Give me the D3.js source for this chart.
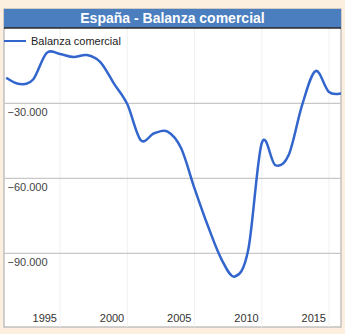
<!DOCTYPE html>
<html>
<head>
<meta charset="utf-8">
<script src="https://cdn.jsdelivr.net/npm/d3@7/dist/d3.min.js"></script>
<style>
  html, body { margin: 0; padding: 0; background: #fcefdf; }
  svg { display: block; font-family: "Liberation Sans", Arial, sans-serif; }
</style>
</head>
<body>
<svg id="chart" width="345" height="334"></svg>
<script>
// Trade balance of Spain, yearly
const years = [1991, 1992, 1993, 1994, 1995, 1996, 1997, 1998, 1999, 2000,
               2001, 2002, 2003, 2004, 2005, 2006, 2007, 2008, 2009, 2010,
               2011, 2012, 2013, 2014, 2015, 2016];
const balance = [-19800, -22300, -20500, -9900, -10300, -11500, -10700, -13500, -22000, -30300,
                 -44700, -42000, -41300, -47900, -64000, -79100, -92300, -99300, -88500, -45900,
                 -54700, -50700, -30700, -17100, -25500, -25900];
const yTicks = [-30000, -60000, -90000];
const xTicks = [1995, 2000, 2005, 2010, 2015];
const title = "España - Balanza comercial";
const seriesName = "Balanza comercial";

const svg = d3.select("#chart");
const panel = { left: 4, right: 341, top: 9, header: 28, bottom: 327 };

const x = d3.scaleLinear().domain([1995, 2015]).range([60, 329]);
const y = d3.scaleLinear().domain([-120000, 0]).range([328.3, 28.3]);

// white panel with grey frame
svg.append("rect")
  .attr("x", panel.left).attr("y", panel.top)
  .attr("width", panel.right - panel.left).attr("height", panel.bottom - panel.top)
  .attr("fill", "#fff").attr("stroke", "#b3b3b3").attr("stroke-width", 1.2);

// faint vertical grid
svg.append("g").selectAll("line").data(xTicks).join("line")
  .attr("x1", d => x(d)).attr("x2", d => x(d))
  .attr("y1", panel.header).attr("y2", panel.bottom)
  .attr("stroke", "#f0f0f0").attr("stroke-width", 1);

// horizontal grid
svg.append("g").selectAll("line").data(yTicks).join("line")
  .attr("x1", panel.left).attr("x2", panel.right)
  .attr("y1", d => y(d)).attr("y2", d => y(d))
  .attr("stroke", "#c8c8c8").attr("stroke-width", 1.2);

// y labels, inside the plot below each grid line
const fmt = d => d3.format(",")(d).replace(/,/g, ".");
svg.append("g").selectAll("text").data(yTicks).join("text")
  .attr("x", panel.left + 3.5).attr("y", d => y(d) + 13)
  .attr("font-size", 11).attr("fill", "#444")
  .text(fmt);

// x labels, to the left of each grid line
svg.append("g").selectAll("text").data(xTicks).join("text")
  .attr("x", d => x(d) - 3).attr("y", 322)
  .attr("text-anchor", "end")
  .attr("font-size", 11).attr("fill", "#333")
  .text(d => d);

// series line
svg.append("clipPath").attr("id", "plot-clip")
  .append("rect")
  .attr("x", panel.left).attr("y", panel.header)
  .attr("width", panel.right - panel.left).attr("height", panel.bottom - panel.header);

const line = d3.line()
  .x((d, i) => x(years[i]))
  .y(d => y(d))
  .curve(d3.curveCardinal.tension(0));

svg.append("path")
  .datum(balance)
  .attr("clip-path", "url(#plot-clip)")
  .attr("d", line)
  .attr("fill", "none")
  .attr("stroke", "#3366cc")
  .attr("stroke-width", 2.5)
  .attr("stroke-linejoin", "round");

// header bar
svg.append("rect")
  .attr("x", panel.left).attr("y", panel.top)
  .attr("width", panel.right - panel.left).attr("height", panel.header - panel.top)
  .attr("fill", "#4a7ebf");
svg.append("line")
  .attr("x1", panel.left).attr("x2", panel.right)
  .attr("y1", panel.header).attr("y2", panel.header)
  .attr("stroke", "#2a2a2a").attr("stroke-width", 1.5);
svg.append("text")
  .attr("x", (panel.left + panel.right) / 2).attr("y", 23)
  .attr("text-anchor", "middle")
  .attr("font-size", 14).attr("font-weight", "bold").attr("fill", "#fff")
  .text(title);

// legend
svg.append("line")
  .attr("x1", panel.left).attr("x2", 26)
  .attr("y1", 41).attr("y2", 41)
  .attr("stroke", "#3366cc").attr("stroke-width", 2);
svg.append("text")
  .attr("x", 31).attr("y", 45)
  .attr("font-size", 11).attr("fill", "#222")
  .text(seriesName);
</script>
</body>
</html>
